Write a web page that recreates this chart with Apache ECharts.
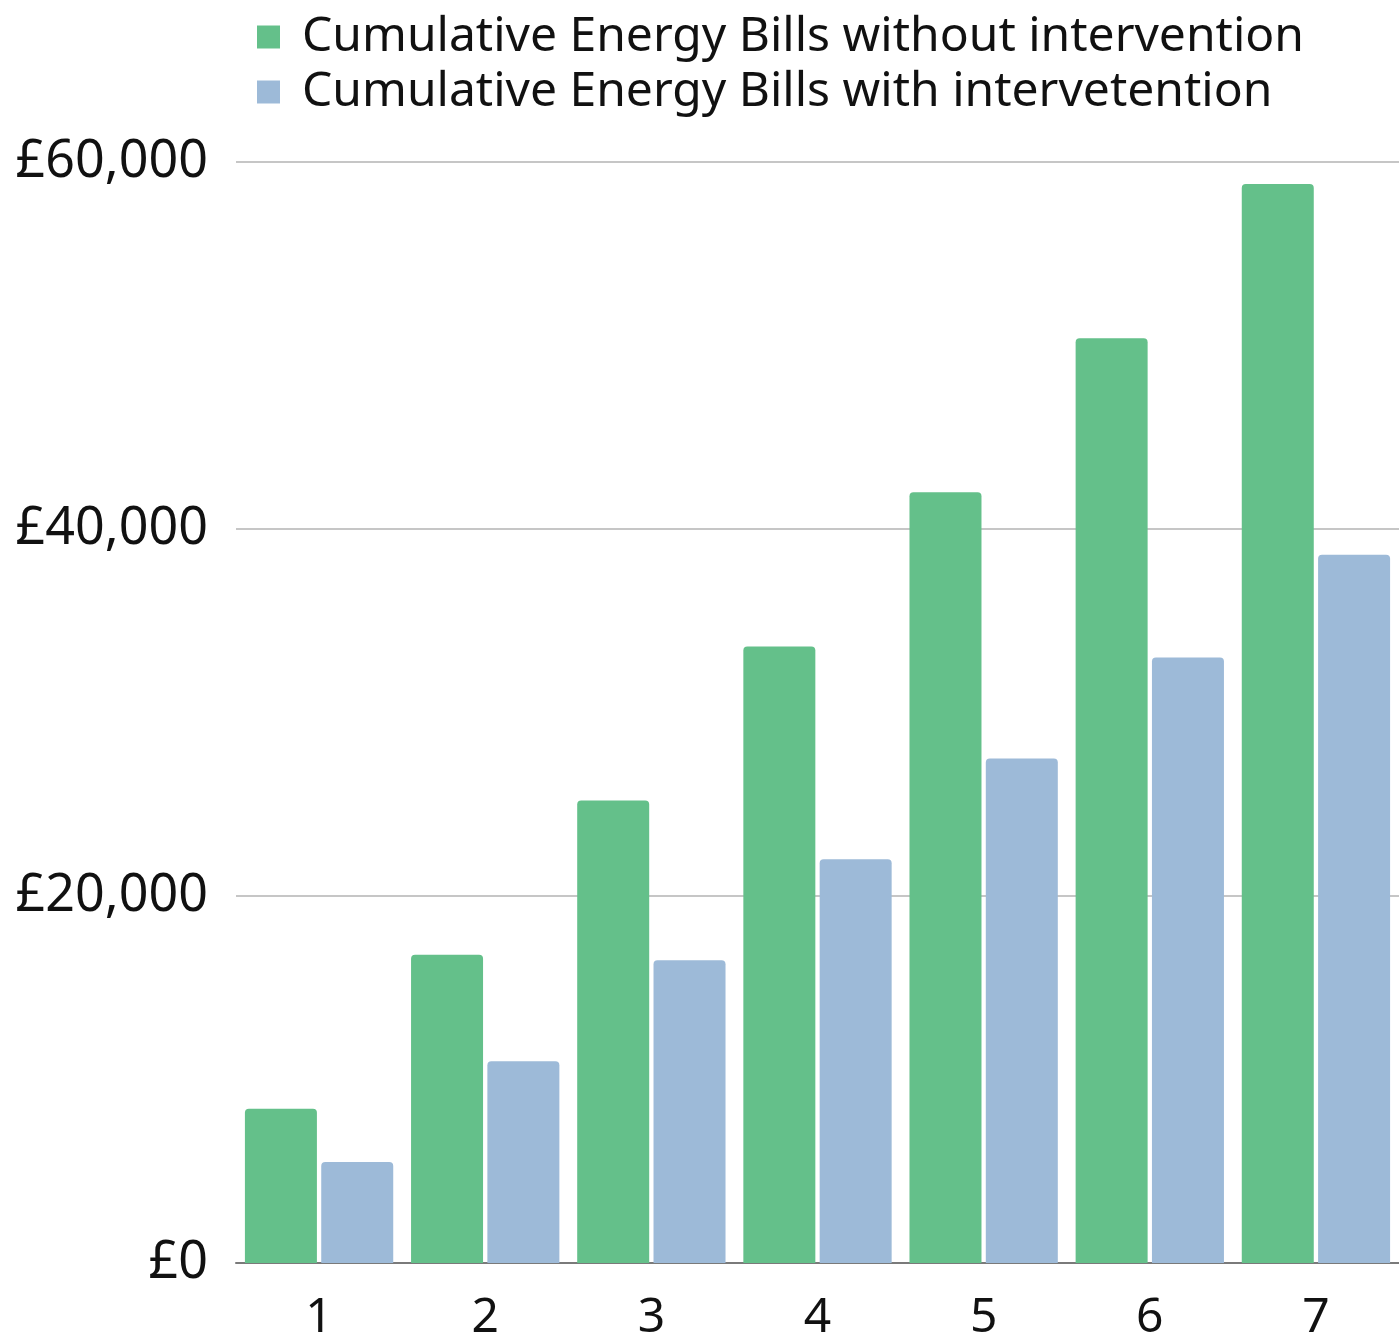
<!DOCTYPE html>
<html>
<head>
<meta charset="utf-8">
<script src="https://cdn.jsdelivr.net/npm/echarts@6/dist/echarts.min.js"></script>
<style>
  html, body { margin: 0; padding: 0; background: #ffffff; }
  #chart { width: 1399px; height: 1336px; }
</style>
</head>
<body>
<div id="chart"></div>
<script>
// Years after the intervention
const years = ['1', '2', '3', '4', '5', '6', '7'];

// Cumulative energy bills (£)
const billsWithout = [8400, 16800, 25200, 33600, 42000, 50400, 58800];
const billsWith = [5500, 11000, 16500, 22000, 27500, 33000, 38600];

// Value-axis ticks
const yMin = 0;
const yMax = 60000;
const yStep = 20000;

const seriesNames = [
  'Cumulative Energy Bills without intervention',
  'Cumulative Energy Bills with intervetention'
];

const FONT = '"Noto Sans", "Open Sans", sans-serif';
const chart = echarts.init(document.getElementById('chart'), null, { renderer: 'canvas' });

chart.setOption({
  backgroundColor: '#ffffff',
  animation: false,
  legend: {
    orient: 'vertical',
    left: 252,
    top: 8,
    itemWidth: 23,
    itemHeight: 23,
    itemGap: 7,
    icon: 'rect',
    textStyle: {
      fontFamily: FONT,
      fontSize: 48,
      color: '#111111',
      padding: [0, 0, 0, 17]
    },
    data: seriesNames
  },
  grid: {
    left: 236,
    right: 0,
    top: 162,
    bottom: 73,
    containLabel: false,
    outerBoundsMode: 'none'
  },
  xAxis: {
    type: 'category',
    data: years,
    axisLine: { show: true, lineStyle: { color: '#7a7a7a', width: 2 } },
    axisTick: { show: false },
    axisLabel: {
      fontFamily: FONT,
      fontSize: 48,
      color: '#111111',
      margin: 31
    }
  },
  yAxis: {
    type: 'value',
    min: yMin,
    max: yMax,
    interval: yStep,
    axisLine: { show: false },
    axisTick: { show: false },
    splitLine: { lineStyle: { color: '#c6c6c6', width: 2 } },
    axisLabel: {
      fontFamily: FONT,
      fontSize: 52,
      color: '#111111',
      margin: 28,
      padding: [4, 0, 0, 0],
      formatter: v => '£' + v.toLocaleString('en-GB')
    }
  },
  series: [
    {
      name: seriesNames[0],
      type: 'bar',
      data: billsWithout,
      barWidth: 72,
      barGap: '6%',
      itemStyle: { color: '#64c08a', borderRadius: [4, 4, 0, 0] }
    },
    {
      name: seriesNames[1],
      type: 'bar',
      data: billsWith,
      barWidth: 72,
      barGap: '6%',
      itemStyle: { color: '#9dbad8', borderRadius: [4, 4, 0, 0] }
    }
  ]
});
</script>
</body>
</html>
